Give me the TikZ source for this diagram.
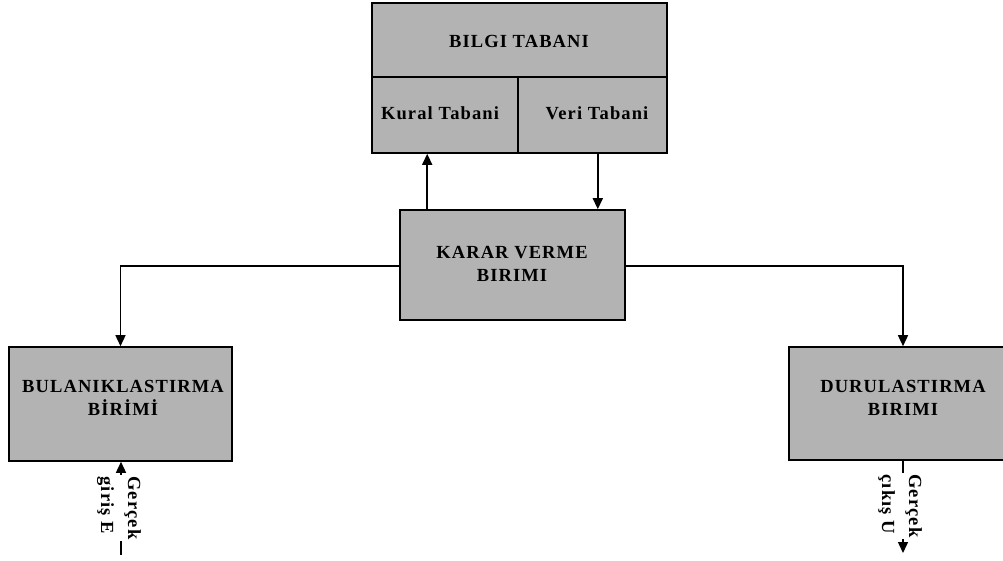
\documentclass[tikz,border=0pt]{standalone}
\usepackage{fontspec}
\setmainfont{Liberation Serif}
\newfontfamily\lblfont[LetterSpace=6]{Liberation Serif}
\usetikzlibrary{arrows.meta}
\definecolor{boxgray}{RGB}{179,179,179}
\tikzset{
  box/.style={draw=black, line width=1.6pt, fill=boxgray, inner sep=0pt},
  lbl/.style={font=\lblfont\bfseries\fontsize{18.5}{23}\selectfont, align=center, inner sep=0pt},
  conn/.style={draw=black, line width=1.5pt},
  arr/.style={conn, -{Triangle[width=10pt,length=11pt]}},
  vlbl/.style={font=\lblfont\bfseries\fontsize{18.5}{27}\selectfont, align=left, rotate=-90, fill=white, inner sep=1pt}
}
\begin{document}
\begin{tikzpicture}[x=1pt,y=-1pt]
\useasboundingbox (0,0) rectangle (1003,561);
\clip (0,0) rectangle (1003,561);
% knowledge base
\node[box, minimum width=295pt, minimum height=150pt] (kb) at (519.5,78) {};
\draw[conn] (kb.west |- 0,77) coordinate (dl) -- (kb.east |- 0,77) coordinate (dr);
\draw[conn] (518,77) coordinate (vt) -- (vt |- kb.south);
\node[lbl] (kbt) at (519,41) {BILGI TABANI};
\node[lbl] (kural) at (440,113) {Kural Tabani};
\node[lbl] (veri) at (597,113) {Veri Tabani};
% decision unit
\node[box, minimum width=225pt, minimum height=110pt] (karar) at (512.5,265) {};
\node[lbl] (karart) at (512,264) {KARAR VERME\\BIRIMI};
% fuzzification
\node[box, minimum width=223pt, minimum height=114pt] (bul) at (120.5,404) {};
\node[lbl] (bult) at (123,398) {BULANIKLASTIRMA\\BİRİMİ};
% defuzzification
\node[box, minimum width=221pt, minimum height=113pt] (dur) at (899.5,403.5) {};
\node[lbl] (durt) at (903,398) {DURULASTIRMA\\BIRIMI};
% connectors
\draw[arr] ([xshift=28pt]karar.north west) -- ([xshift=28pt]karar.north west |- kb.south);
\draw[arr] ([xshift=-28pt]karar.north east |- kb.south) -- ([xshift=-28pt]karar.north east);
\draw[arr] (karar.west |- 0,266) -| (bul.north);
\draw[arr] (karar.east |- 0,266) -| ([xshift=3.5pt]dur.north);
\coordinate (inE) at (121,555);
\coordinate (outU) at (903,553);
\draw[arr] (inE) -- (inE |- bul.south);
\draw[arr] (outU |- dur.south) -- (outU);
\node[vlbl] (inlbl) at (119,508) {Gerçek\\giriş E};
\node[vlbl] (outlbl) at (900,506) {Gerçek\\çıkış U};
\end{tikzpicture}
\end{document}
